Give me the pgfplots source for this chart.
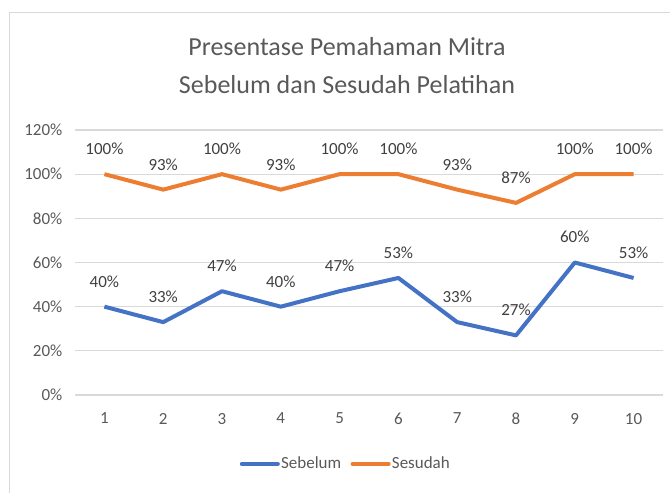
\documentclass[border=0pt]{standalone}
\usepackage{pgfplots}
\pgfplotsset{compat=1.18}
\usepackage{fontspec}
\setmainfont{Carlito}
\definecolor{cblue}{HTML}{4472C4}
\definecolor{corange}{HTML}{ED7D31}
\definecolor{gridc}{HTML}{D9D9D9}
\definecolor{ticktxt}{HTML}{595959}
\definecolor{lbltxt}{HTML}{404040}
\begin{document}
\begin{tikzpicture}
\useasboundingbox (0pt,0pt) rectangle (502.5pt,-369pt);
\draw[gridc,line width=0.9pt] (7.1pt,-375pt) -- (7.1pt,-9.4pt) -- (510pt,-9.4pt);
\node[ticktxt,font=\fontsize{19.5}{23}\selectfont] at (260.25pt,-35.25pt) {Presentase Pemahaman Mitra};
\node[ticktxt,font=\fontsize{19.5}{23}\selectfont] at (260.25pt,-63.75pt) {Sebelum dan Sesudah Pelatihan};
\begin{axis}[
  at={(56.25pt,-296.25pt)}, anchor=south west,
  scale only axis, width=441pt, height=198.75pt,
  xmin=0.5, xmax=10.5, ymin=0, ymax=120,
  xtick={1,...,10}, ytick={0,20,...,120},
  yticklabel={\pgfmathprintnumber{\tick}\%},
  /pgf/number format/assume math mode=true,
  major tick length=0pt,
  axis line style={draw=none},
  ymajorgrids=true, xmajorgrids=false,
  major grid style={draw=gridc,line width=0.9pt},
  tick label style={ticktxt,font=\fontsize{12.75}{15}\selectfont},
  yticklabel style={xshift=-6pt},
  xticklabel style={yshift=-10pt},
  clip=false,
  nodes near coords={\pgfmathprintnumber{\pgfplotspointmeta}\%},
  every node near coord/.append style={lbltxt,font=\fontsize{12.75}{15}\selectfont,anchor=center,yshift=19pt},
  legend style={draw=none,fill=none,at={(0.46,-0.26)},anchor=center,
    font=\fontsize{12.75}{15}\selectfont,text=ticktxt,
    /tikz/every even column/.append style={column sep=6pt},
    inner sep=0pt, nodes={inner sep=1pt}},
  legend columns=2,
  legend image code/.code={\draw[#1,line width=3pt,line cap=round] (0.05cm,0) -- (1.0cm,0);},
]
\addplot[cblue,line width=3pt,line join=round] coordinates {(1,40)(2,33)(3,47)(4,40)(5,47)(6,53)(7,33)(8,27)(9,60)(10,53)};
\addlegendentry{Sebelum}
\addplot[corange,line width=3pt,line join=round] coordinates {(1,100)(2,93)(3,100)(4,93)(5,100)(6,100)(7,93)(8,87)(9,100)(10,100)};
\addlegendentry{Sesudah}
\end{axis}
\end{tikzpicture}
\end{document}
